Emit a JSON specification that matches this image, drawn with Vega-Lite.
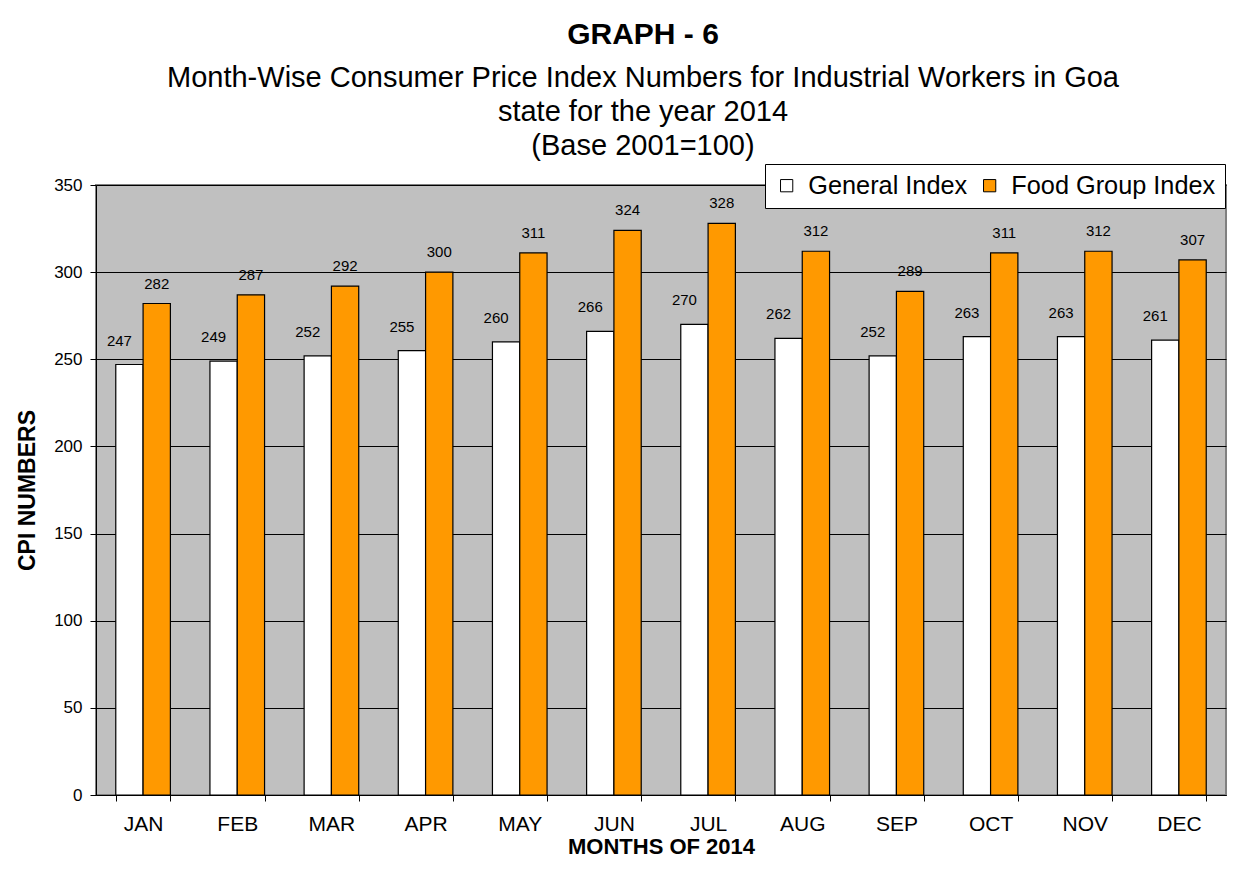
{
  "$schema": "https://vega.github.io/schema/vega-lite/v6.json",
  "autosize": "none",
  "width": 1130,
  "height": 610,
  "padding": {"left": 96, "top": 185, "right": 14, "bottom": 76},
  "background": "white",
  "title": {
    "text": "GRAPH - 6",
    "subtitle": ["Month-Wise Consumer Price Index Numbers for Industrial Workers in Goa", "state for the year 2014", "(Base 2001=100)"],
    "anchor": "middle",
    "frame": "group",
    "dx": -18,
    "offset": 3,
    "font": "Liberation Sans",
    "fontSize": 30,
    "fontWeight": "bold",
    "color": "black",
    "subtitleFont": "Liberation Sans",
    "subtitleFontSize": 29,
    "subtitleColor": "black",
    "subtitleLineHeight": 34,
    "subtitlePadding": 14
  },
  "data": {
    "values": [
      {"month": "JAN", "series": "General Index", "value": 247},
      {"month": "JAN", "series": "Food Group Index", "value": 282},
      {"month": "FEB", "series": "General Index", "value": 249},
      {"month": "FEB", "series": "Food Group Index", "value": 287},
      {"month": "MAR", "series": "General Index", "value": 252},
      {"month": "MAR", "series": "Food Group Index", "value": 292},
      {"month": "APR", "series": "General Index", "value": 255},
      {"month": "APR", "series": "Food Group Index", "value": 300},
      {"month": "MAY", "series": "General Index", "value": 260},
      {"month": "MAY", "series": "Food Group Index", "value": 311},
      {"month": "JUN", "series": "General Index", "value": 266},
      {"month": "JUN", "series": "Food Group Index", "value": 324},
      {"month": "JUL", "series": "General Index", "value": 270},
      {"month": "JUL", "series": "Food Group Index", "value": 328},
      {"month": "AUG", "series": "General Index", "value": 262},
      {"month": "AUG", "series": "Food Group Index", "value": 312},
      {"month": "SEP", "series": "General Index", "value": 252},
      {"month": "SEP", "series": "Food Group Index", "value": 289},
      {"month": "OCT", "series": "General Index", "value": 263},
      {"month": "OCT", "series": "Food Group Index", "value": 311},
      {"month": "NOV", "series": "General Index", "value": 263},
      {"month": "NOV", "series": "Food Group Index", "value": 312},
      {"month": "DEC", "series": "General Index", "value": 261},
      {"month": "DEC", "series": "Food Group Index", "value": 307}
    ]
  },
  "encoding": {
    "x": {
      "field": "month",
      "type": "nominal",
      "sort": null,
      "scale": {"paddingInner": 0.42, "paddingOuter": 0.21},
      "axis": {
        "title": "MONTHS OF 2014",
        "titleFont": "Liberation Sans",
        "titleFontSize": 22,
        "titleFontWeight": "bold",
        "titleColor": "black",
        "titlePadding": 2,
        "labelFont": "Liberation Sans",
        "labelFontSize": 21,
        "labelColor": "black",
        "labelAngle": 0,
        "labelPadding": 12,
        "tickBand": "extent",
        "tickSize": 6,
        "tickColor": "black",
        "domainColor": "black",
        "grid": false
      }
    },
    "xOffset": {"field": "series", "type": "nominal", "sort": ["General Index", "Food Group Index"], "scale": {"paddingInner": 0}},
    "y": {
      "field": "value",
      "type": "quantitative",
      "scale": {"domain": [0, 350], "nice": false},
      "axis": {
        "title": "CPI NUMBERS",
        "titleFont": "Liberation Sans",
        "titleFontSize": 23,
        "titleFontWeight": "bold",
        "titleColor": "black",
        "titlePadding": 14,
        "values": [0, 50, 100, 150, 200, 250, 300, 350],
        "labelFont": "Liberation Sans",
        "labelFontSize": 17,
        "labelColor": "black",
        "labelPadding": 8,
        "tickSize": 6,
        "tickColor": "black",
        "domainColor": "black",
        "grid": true,
        "gridColor": "black",
        "gridOpacity": 1
      }
    }
  },
  "layer": [
    {
      "mark": {"type": "bar", "stroke": "black", "strokeWidth": 1.2},
      "encoding": {
        "color": {
          "field": "series",
          "type": "nominal",
          "sort": ["General Index", "Food Group Index"],
          "scale": {"domain": ["General Index", "Food Group Index"], "range": ["#FFFFFF", "#FF9900"]},
          "legend": {
            "title": null,
            "orient": "none",
            "legendX": 669,
            "legendY": -21,
            "direction": "horizontal",
            "fillColor": "white",
            "strokeColor": "black",
            "padding": 9,
            "symbolType": "square",
            "symbolSize": 150,
            "symbolStrokeColor": "black",
            "symbolStrokeWidth": 1,
            "labelFont": "Liberation Sans",
            "labelFontSize": 25.3,
            "labelColor": "black",
            "labelOffset": 9,
            "labelLimit": 400,
            "columnPadding": 9
          }
        }
      }
    },
    {
      "transform": [{"filter": "datum.series === 'General Index'"}],
      "mark": {"type": "text", "font": "Liberation Sans", "fontSize": 15, "color": "black", "baseline": "middle", "dy": -24, "dx": -10},
      "encoding": {"text": {"field": "value", "type": "quantitative"}}
    },
    {
      "transform": [{"filter": "datum.series === 'Food Group Index'"}],
      "mark": {"type": "text", "font": "Liberation Sans", "fontSize": 15, "color": "black", "baseline": "middle", "dy": -20},
      "encoding": {"text": {"field": "value", "type": "quantitative"}}
    }
  ],
  "config": {
    "view": {"fill": "#C0C0C0", "stroke": "#808080", "strokeWidth": 2}
  }
}
